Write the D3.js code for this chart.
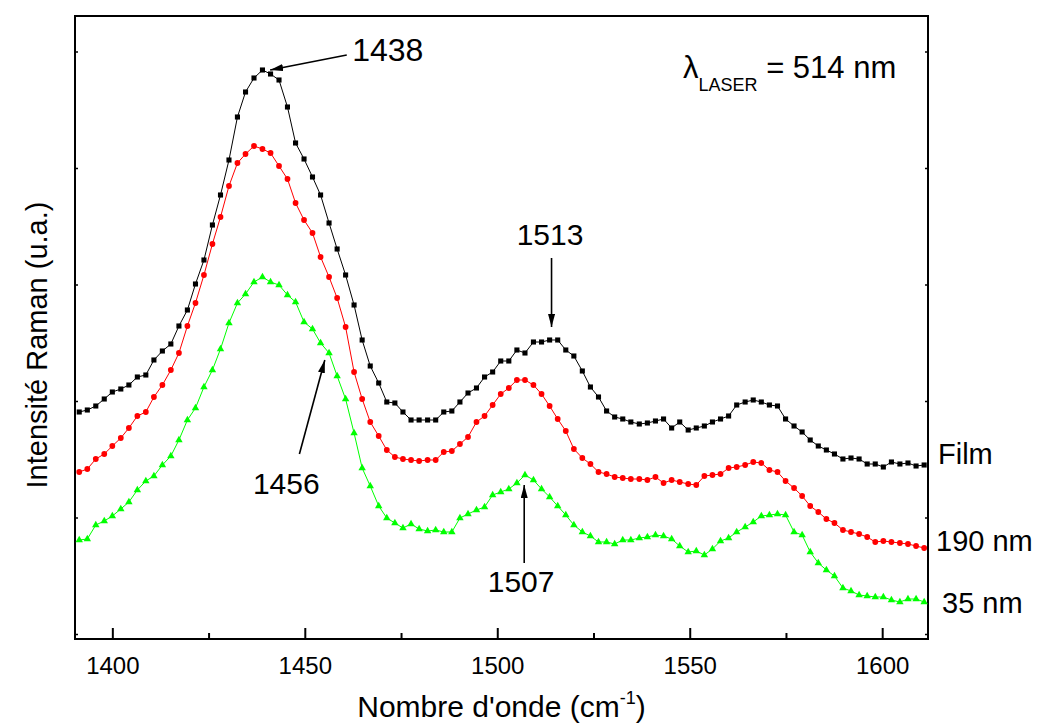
<!DOCTYPE html>
<html>
<head>
<meta charset="utf-8">
<script src="https://cdn.jsdelivr.net/npm/d3@7"></script>
<style>
  html, body { margin: 0; padding: 0; background: #fff; }
  svg { display: block; font-family: "Liberation Sans", Arial, sans-serif; }
</style>
</head>
<body>
<svg id="chart" width="1041" height="723"></svg>
<script>
// ---------- data ----------
const wavenumbers = [
  1391.4,1393.5,1395.7,1397.9,1400.0,1402.2,1404.3,1406.5,1408.7,1410.8,
  1413.0,1415.2,1417.3,1419.5,1421.6,1423.8,1426.0,1428.1,1430.3,1432.5,
  1434.6,1436.8,1439.0,1441.1,1443.3,1445.5,1447.6,1449.8,1452.0,1454.1,
  1456.3,1458.4,1460.6,1462.8,1464.9,1467.0,1469.2,1471.3,1473.4,1475.5,
  1477.6,1479.7,1481.9,1484.0,1486.1,1488.2,1490.3,1492.4,1494.6,1496.7,
  1498.8,1500.9,1503.0,1505.1,1507.2,1509.4,1511.5,1513.6,1515.7,1517.8,
  1519.9,1522.1,1524.2,1526.3,1528.4,1530.5,1532.6,1534.7,1536.9,1539.0,
  1541.1,1543.2,1545.3,1547.4,1549.6,1551.7,1553.8,1555.9,1558.0,1560.1,
  1562.2,1564.4,1566.5,1568.6,1570.7,1572.8,1574.9,1577.1,1579.2,1581.3,
  1583.4,1585.5,1587.6,1589.8,1591.9,1594.0,1596.1,1598.2,1600.3,1602.4,
  1604.6,1606.7,1608.8,1610.9
];
const filmValues = [
  222,224,228,235,242,245,249,257,259,274,
  283,290,308,324,350,374,409,439,474,517,
  542,556,564,560,554,527,491,475,457,439,
  411,385,359,329,294,268,251,232,231,222,
  214,214,214,214,222,223,232,241,246,257,
  262,273,273,284,281,292,292,294,294,284,
  278,263,247,237,223,217,215,212,210,211,
  213,215,206,212,204,206,208,212,215,218,
  229,232,234,232,229,228,215,208,202,194,
  188,184,180,175,176,175,170,170,167,172,
  170,171,168,169
];
const nm190Values = [
  162,165,175,180,188,196,206,218,222,237,
  249,264,281,308,331,359,390,417,448,471,
  480,488,485,481,468,455,431,414,401,377,
  357,336,307,262,235,212,198,184,177,175,
  174,173,174,174,182,183,190,197,212,218,
  229,240,246,254,254,249,240,228,215,203,
  185,176,170,162,160,157,156,155,155,154,
  157,151,154,152,150,149,158,159,160,166,
  167,169,172,171,164,162,153,146,138,128,
  122,115,111,104,102,100,97,92,93,92,
  91,90,88,86
];
const nm35Values = [
  94,95,109,113,118,125,132,144,153,158,
  169,178,194,214,226,247,264,285,311,331,
  340,352,357,352,349,339,332,312,305,291,
  281,258,235,201,166,148,128,116,111,106,
  110,105,103,104,102,102,116,120,124,127,
  139,142,145,151,159,154,145,137,128,119,
  109,102,98,92,92,90,94,94,96,97,
  99,98,95,88,82,83,79,85,93,96,
  102,107,112,118,119,120,119,102,99,82,
  71,64,58,46,43,39,38,37,37,34,
  32,35,35,32
];
const seriesNames = ["Film", "190 nm", "35 nm"];
const seriesColors = ["#000000", "#ff0000", "#00ff00"];
const xMajorTicks = [1400, 1450, 1500, 1550, 1600];
const xMinorTicks = [1425, 1475, 1525, 1575];
const yTicks = [0, 116.5, 233, 349.5, 466, 582.5];
const xDomain = [1390.3, 1611.9];
const yDomain = [-5, 618];

// peak annotations: label, text anchor point, arrow tail, arrow tip (data units)
const peakLabels = ["1438", "1513", "1456", "1507"];
const peakTextX = [1462.3, 1513.7, 1445.2, 1506.2];
const peakTextY = [573, 389, 140, 42];
const peakTextAnchor = ["start", "middle", "middle", "middle"];
const peakFontSize = [32, 30, 30, 30];
const arrowFromX = [1460.9, 1514.1, 1448.6, 1507.0];
const arrowFromY = [579, 376, 180, 71];
const arrowToX = [1441.0, 1514.1, 1455.2, 1507.0];
const arrowToY = [564, 307, 274, 149];

// right-side series labels: y position (data units), x offset from frame
const seriesLabelY = [170, 83, 21];
const seriesLabelDx = [10, 8, 14];

// ---------- layout ----------
const margin = { left: 75, right: 928, top: 16, bottom: 639 };
const svg = d3.select("#chart");
const x = d3.scaleLinear().domain(xDomain).range([margin.left, margin.right]);
const y = d3.scaleLinear().domain(yDomain).range([margin.bottom, margin.top]);

const defs = svg.append("defs");
defs.append("marker")
  .attr("id", "arrowhead")
  .attr("viewBox", "0 0 13 7")
  .attr("refX", 13).attr("refY", 3.5)
  .attr("markerWidth", 13).attr("markerHeight", 7)
  .attr("markerUnits", "userSpaceOnUse")
  .attr("orient", "auto")
  .append("path").attr("d", "M0,0 L13,3.5 L0,7 Z").attr("fill", "#000");

// ---------- axes ----------
const xAxis = d3.axisBottom(x).tickValues(xMajorTicks).tickSize(-11)
  .tickPadding(18).tickFormat(d3.format("d"));
const gx = svg.append("g").attr("transform", `translate(0,${margin.bottom})`).call(xAxis);
gx.select(".domain").remove();
gx.selectAll(".tick line").attr("stroke", "#000").attr("stroke-width", 2);
gx.selectAll(".tick text").attr("font-size", 24).attr("fill", "#000")
  .attr("font-family", "'Liberation Sans', Arial, sans-serif");

const xMinor = d3.axisBottom(x).tickValues(xMinorTicks).tickSize(-6).tickFormat("");
const gxm = svg.append("g").attr("transform", `translate(0,${margin.bottom})`).call(xMinor);
gxm.select(".domain").remove();
gxm.selectAll(".tick line").attr("stroke", "#000").attr("stroke-width", 2);

const yLeft = d3.axisLeft(y).tickValues(yTicks).tickSize(-3).tickFormat("");
const gyl = svg.append("g").attr("transform", `translate(${margin.left},0)`).call(yLeft);
gyl.select(".domain").remove();
gyl.selectAll(".tick line").attr("stroke", "#000").attr("stroke-width", 1.5);

const yRight = d3.axisRight(y).tickValues(yTicks).tickSize(-3).tickFormat("");
const gyr = svg.append("g").attr("transform", `translate(${margin.right},0)`).call(yRight);
gyr.select(".domain").remove();
gyr.selectAll(".tick line").attr("stroke", "#000").attr("stroke-width", 1.5);

// frame
svg.append("rect")
  .attr("x", x(xDomain[0])).attr("y", y(yDomain[1]))
  .attr("width", x(xDomain[1]) - x(xDomain[0]))
  .attr("height", y(yDomain[0]) - y(yDomain[1]))
  .attr("fill", "none").attr("stroke", "#000").attr("stroke-width", 2);

// ---------- series ----------
const allSeries = [filmValues, nm190Values, nm35Values];
const symbolTypes = [d3.symbolSquare, d3.symbolCircle, d3.symbolTriangle];
const symbolSizes = [26, 26, 24];
const line = d3.line().x(d => x(d[0])).y(d => y(d[1]));

const drawOrder = [2, 1, 0];
drawOrder.forEach(k => {
  const pts = wavenumbers.map((w, i) => [w, allSeries[k][i]]);
  const g = svg.append("g");
  g.append("path").datum(pts).attr("d", line)
    .attr("fill", "none").attr("stroke", seriesColors[k]).attr("stroke-width", 1);
  g.selectAll("path.pt").data(pts).enter().append("path").attr("class", "pt")
    .attr("d", d3.symbol().type(symbolTypes[k]).size(symbolSizes[k]))
    .attr("transform", d => `translate(${x(d[0])},${y(d[1])})`)
    .attr("fill", seriesColors[k]);
});

// ---------- annotations ----------
peakLabels.forEach((lab, i) => {
  svg.append("line")
    .attr("x1", x(arrowFromX[i])).attr("y1", y(arrowFromY[i]))
    .attr("x2", x(arrowToX[i])).attr("y2", y(arrowToY[i]))
    .attr("stroke", "#000").attr("stroke-width", 1.6)
    .attr("marker-end", "url(#arrowhead)");
  svg.append("text")
    .attr("x", x(peakTextX[i])).attr("y", y(peakTextY[i]))
    .attr("text-anchor", peakTextAnchor[i])
    .attr("font-size", peakFontSize[i]).attr("fill", "#000").text(lab);
});

seriesNames.forEach((name, i) => {
  svg.append("text")
    .attr("x", margin.right + seriesLabelDx[i]).attr("y", y(seriesLabelY[i]))
    .attr("font-size", 29).attr("fill", "#000").text(name);
});

// laser label
const laser = svg.append("text").attr("x", 683).attr("y", 78).attr("font-size", 31).attr("fill", "#000");
laser.append("tspan").text("λ");
laser.append("tspan").attr("font-size", 18).attr("dy", 13).text("LASER");
laser.append("tspan").attr("dy", -13).text(" = 514 nm");

// axis titles
const xt = svg.append("text")
  .attr("x", (margin.left + margin.right) / 2).attr("y", 717)
  .attr("text-anchor", "middle").attr("font-size", 30).attr("fill", "#000");
xt.append("tspan").text("Nombre d'onde (cm");
xt.append("tspan").attr("font-size", 18).attr("dy", -13).text("-1");
xt.append("tspan").attr("dy", 13).text(")");

svg.append("text")
  .attr("transform", `translate(47,345) rotate(-90)`)
  .attr("text-anchor", "middle").attr("font-size", 29).attr("fill", "#000")
  .text("Intensité Raman (u.a.)");
</script>
</body>
</html>
